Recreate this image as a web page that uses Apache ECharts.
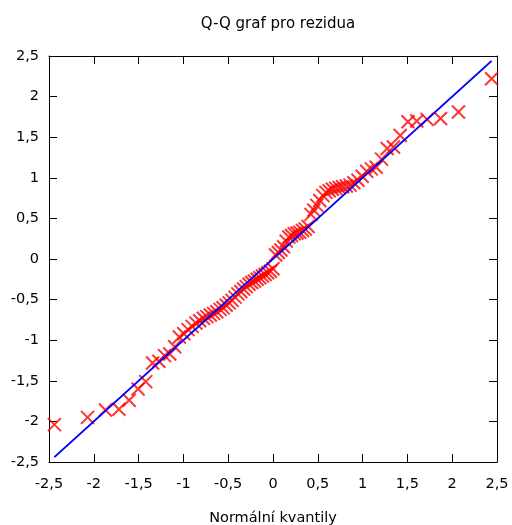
<!DOCTYPE html>
<html>

<head>
    <meta charset="utf-8">
    <title>Q-Q graf pro rezidua</title>
    <script src="https://cdn.jsdelivr.net/npm/echarts@6/dist/echarts.min.js"></script>
    <style>
        html, body { margin: 0; padding: 0; background: #fff; }
    </style>
</head>

<body>
    <div id="echart_qq" style="width: 512px; height: 525px;"></div>

    <script>
        // teoreticke kvantily (normalni rozdeleni), serazene
        var kvantily = [
            -2.44, -2.07, -1.87, -1.72, -1.605, -1.506, -1.42, -1.344, -1.274, -1.211,
            -1.152, -1.097, -1.045, -0.995, -0.948, -0.903, -0.86, -0.818, -0.777, -0.738,
            -0.7, -0.663, -0.627, -0.591, -0.557, -0.522, -0.489, -0.456, -0.424, -0.392,
            -0.36, -0.329, -0.298, -0.268, -0.237, -0.207, -0.177, -0.147, -0.118, -0.088,
            -0.059, -0.029, 0,
            0.029, 0.059, 0.088, 0.118, 0.147, 0.177, 0.207, 0.237, 0.268, 0.298,
            0.329, 0.36, 0.392, 0.424, 0.456, 0.489, 0.522, 0.557, 0.591, 0.627,
            0.663, 0.7, 0.738, 0.777, 0.818, 0.86, 0.903, 0.948, 0.995, 1.045,
            1.097, 1.152, 1.211, 1.274, 1.344, 1.42, 1.506, 1.605, 1.72, 1.87,
            2.07, 2.44
        ];
        // serazena rezidua
        var rezidua = [
            -2.04, -1.95, -1.86, -1.85, -1.74, -1.60, -1.51, -1.28, -1.26, -1.19,
            -1.17, -1.08, -0.96, -0.92, -0.87, -0.83, -0.79, -0.76, -0.73, -0.71,
            -0.69, -0.67, -0.65, -0.62, -0.60, -0.57, -0.54, -0.51, -0.47, -0.43,
            -0.40, -0.37, -0.34, -0.31, -0.29, -0.27, -0.25, -0.23, -0.21, -0.19,
            -0.17, -0.15, -0.12,
            0.05, 0.08, 0.11, 0.15, 0.22, 0.27, 0.29, 0.31, 0.32, 0.33,
            0.35, 0.37, 0.40, 0.55, 0.60, 0.66, 0.72, 0.78, 0.82, 0.84,
            0.86, 0.87, 0.88, 0.89, 0.90, 0.91, 0.94, 0.97, 1.02, 1.08,
            1.11, 1.13, 1.23, 1.36, 1.38, 1.52, 1.69, 1.70, 1.72, 1.73,
            1.81, 2.22
        ];
        // primka y = x
        var primkaX = [-2.44, 2.44];
        var primkaY = [-2.44, 2.44];
        var osaTicks = [-2.5, 2.5, 0.5]; // min, max, krok

        var body = kvantily.map(function (x, i) { return [x, rezidua[i]]; });
        var primka = primkaX.map(function (x, i) { return [x, primkaY[i]]; });

        var fmt = function (v) { return String(v).replace('.', ','); };
        var font = 'DejaVu Sans, Verdana, sans-serif';

        var echart_qq = echarts.init(document.getElementById('echart_qq'));

        var osa = function (pos, labels, margin) {
            return {
                type: 'value',
                position: pos,
                min: osaTicks[0],
                max: osaTicks[1],
                interval: osaTicks[2],
                splitLine: { show: false },
                axisLine: { show: true, onZero: false, lineStyle: { color: '#000', width: 1 } },
                axisTick: { show: true, inside: true, length: 8, lineStyle: { color: '#000' } },
                axisLabel: {
                    show: labels,
                    formatter: fmt,
                    color: '#000',
                    fontSize: 14.5,
                    fontFamily: font,
                    margin: margin
                }
            };
        };

        var xDole = osa('bottom', true, 15);
        xDole.name = 'Normální kvantily';
        xDole.nameLocation = 'middle';
        xDole.nameGap = 49;
        xDole.nameTextStyle = { color: '#000', fontSize: 14.5, fontFamily: font };

        var option = {
            animation: false,
            title: {
                text: 'Q-Q graf pro rezidua',
                left: 273,
                top: 12,
                textAlign: 'center',
                textStyle: { color: '#000', fontSize: 15, fontWeight: 'normal', fontFamily: font }
            },
            grid: { left: 49, right: 15, top: 56, bottom: 63, containLabel: false, outerBoundsMode: 'none' },
            xAxis: [xDole, osa('top', false, 10)],
            yAxis: [osa('left', true, 10), osa('right', false, 10)],
            series: [
                {
                    name: 'rezidua',
                    type: 'scatter',
                    data: body,
                    symbol: 'path://M0,0L10,10M10,0L0,10',
                    symbolSize: 13,
                    itemStyle: { color: 'rgba(0,0,0,0)', borderColor: '#ff0000', borderWidth: 2 },
                    z: 2
                },
                {
                    name: 'primka',
                    type: 'line',
                    data: primka,
                    symbol: 'none',
                    lineStyle: { color: '#0000ff', width: 2 },
                    z: 3
                }
            ]
        };
        echart_qq.setOption(option);
    </script>
</body>

</html>
